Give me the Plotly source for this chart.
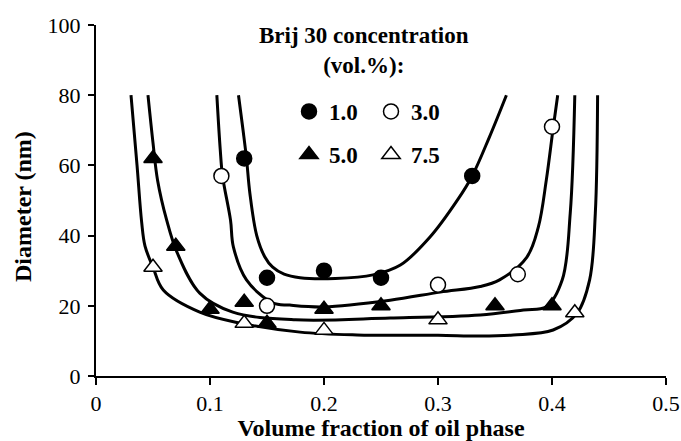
import plotly.graph_objects as go

x_10 = [0.13, 0.15, 0.20, 0.25, 0.33]
y_10 = [62, 28, 30, 28, 57]
x_30 = [0.11, 0.15, 0.30, 0.37, 0.40]
y_30 = [57, 20, 26, 29, 71]
x_50 = [0.05, 0.07, 0.10, 0.13, 0.15, 0.20, 0.25, 0.35, 0.40]
y_50 = [62, 37, 19, 21, 15, 19, 20, 20, 20]
x_75 = [0.05, 0.13, 0.20, 0.30, 0.42]
y_75 = [31, 15, 13, 16, 18]

# ---- fitted curves ----
cx_10 = [0.125, 0.129, 0.132, 0.135, 0.141, 0.148, 0.155, 0.165, 0.179, 0.21, 0.243, 0.267, 0.293, 0.317, 0.330, 0.345, 0.360]
cy_10 = [80, 70, 62, 52, 40, 34, 31, 29, 28, 27.8, 28.8, 31.6, 39.6, 50.1, 57, 68, 80]
cx_30 = [0.106, 0.109, 0.111, 0.118, 0.1205, 0.132, 0.155, 0.17, 0.20, 0.258, 0.302, 0.337, 0.354, 0.378, 0.388, 0.395, 0.401, 0.405]
cy_30 = [80, 64.4, 57, 44.4, 36.8, 27.4, 20.8, 20.2, 19.7, 21.6, 23.9, 25.5, 27.4, 33.9, 42.4, 55.8, 70.6, 80]
cx_50 = [0.0456, 0.050, 0.054, 0.062, 0.071, 0.091, 0.120, 0.175, 0.258, 0.337, 0.375, 0.395, 0.409, 0.416, 0.420]
cy_50 = [80, 66.4, 55.8, 44.4, 35.3, 23.6, 18.2, 16.0, 16.5, 17.4, 18.8, 19.7, 27.4, 46.4, 80]
cx_75 = [0.0307, 0.036, 0.040, 0.043, 0.050, 0.059, 0.091, 0.126, 0.179, 0.229, 0.300, 0.337, 0.366, 0.401, 0.422, 0.433, 0.438, 0.440]
cy_75 = [80, 60, 44, 37, 31, 24.5, 18.2, 15.1, 12.5, 11.7, 11.6, 11.4, 11.7, 13.1, 17.9, 27.4, 46.4, 80]

labels = ["1.0", "3.0", "5.0", "7.5"]
legend_title = "Brij 30 concentration<br>(vol.%):"
x_title = "Volume fraction of oil phase"
y_title = "Diameter (nm)"
x_ticks = [0, 0.1, 0.2, 0.3, 0.4, 0.5]
x_tick_text = ["0", "0.1", "0.2", "0.3", "0.4", "0.5"]
y_ticks = [0, 20, 40, 60, 80, 100]

FONT = "Liberation Serif"
fig = go.Figure()

for cx, cy in [(cx_10, cy_10), (cx_30, cy_30), (cx_50, cy_50), (cx_75, cy_75)]:
    fig.add_trace(go.Scatter(x=cx, y=cy, mode="lines", showlegend=False, hoverinfo="skip",
                             line=dict(color="black", width=3, shape="spline", smoothing=1)))

specs = [
    (x_10, y_10, labels[0], "circle", "black", "legend"),
    (x_30, y_30, labels[1], "circle", "white", "legend"),
    (x_50, y_50, labels[2], "triangle-up", "black", "legend2"),
    (x_75, y_75, labels[3], "triangle-up", "white", "legend2"),
]
for xs, ys, name, sym, fill, lg in specs:
    fig.add_trace(go.Scatter(x=xs, y=ys, mode="markers", name="<b>" + name + "</b>", legend=lg,
                             marker=dict(symbol=sym, size=15 if sym == "circle" else 16, color=fill,
                                         line=dict(color="black", width=1.5))))

legend_common = dict(orientation="h", xref="paper", yref="paper", xanchor="left", yanchor="top",
                     bgcolor="rgba(0,0,0,0)", entrywidth=37, entrywidthmode="pixels", itemwidth=30,
                     font=dict(family=FONT, size=23, color="black"))
fig.update_layout(
    width=681, height=441,
    margin=dict(l=96, r=15, t=25, b=65),
    paper_bgcolor="white", plot_bgcolor="white",
    font=dict(family=FONT, size=21, color="black"),
    xaxis=dict(range=[0, 0.5], tickvals=x_ticks, ticktext=x_tick_text, showgrid=False, zeroline=False,
               showline=True, linecolor="black", linewidth=2, ticks="outside", ticklen=7, tickwidth=2,
               tickcolor="black", tickfont=dict(family=FONT, size=22), automargin=False,
               title=dict(text="<b>" + x_title + "</b>", font=dict(family=FONT, size=24), standoff=8)),
    yaxis=dict(range=[0, 100], tickvals=y_ticks, showgrid=False, zeroline=False,
               showline=True, linecolor="black", linewidth=2, ticks="outside", ticklen=6, tickwidth=2,
               tickcolor="black", tickfont=dict(family=FONT, size=22), automargin=False,
               ticklabelstandoff=3),
    legend=dict(x=(289 - 96) / 570, y=(376 - 90) / 351, **legend_common),
    legend2=dict(x=(289 - 96) / 570, y=(376 - 133) / 351, **legend_common),
    annotations=[
        dict(text="<b>" + legend_title + "</b>", xref="paper", yref="paper",
             x=(364 - 96) / 570, y=(376 - 21) / 351, xanchor="center", yanchor="top",
             showarrow=False, align="center", font=dict(family=FONT, size=23, color="black")),
        dict(text="<b>" + y_title + "</b>", xref="paper", yref="paper", textangle=-90,
             x=(23 - 96) / 570, y=(376 - 207) / 351, xanchor="center", yanchor="middle",
             showarrow=False, font=dict(family=FONT, size=24, color="black")),
    ],
)

fig.write_html("out.html")
